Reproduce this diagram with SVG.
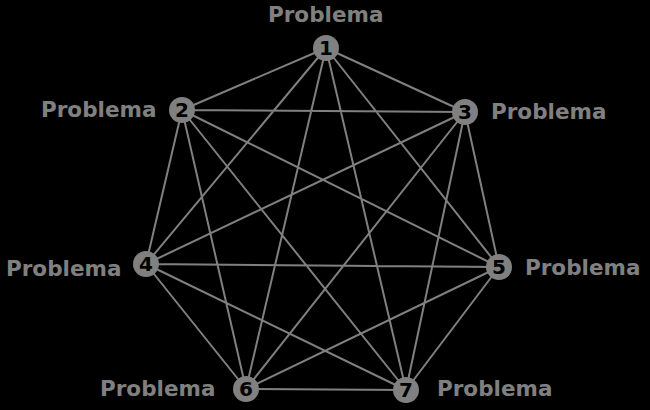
<svg xmlns="http://www.w3.org/2000/svg" width="650" height="410" viewBox="0 0 650 410">
<style>
.e{stroke:#808080;stroke-width:2;fill:none}
.n{fill:#808080}
.d{font-family:"DejaVu Sans",sans-serif;font-weight:bold;font-size:20px;fill:#000;text-anchor:middle}
.l{font-family:"DejaVu Sans",sans-serif;font-weight:bold;font-size:21.5px;fill:#808080}
</style>
<rect width="650" height="410" fill="#000"/>
<g id="edges">
<path class="e" d="M326,48L182,110M326,48L465,112M326,48L146,264M326,48L499,267M326,48L246,389M326,48L406,390
M182,110L465,112M182,110L146,264M182,110L499,267M182,110L246,389M182,110L406,390
M465,112L146,264M465,112L499,267M465,112L246,389M465,112L406,390
M146,264L499,267M146,264L246,389M146,264L406,390
M499,267L246,389M499,267L406,390M246,389L406,390"/>
</g>
<g id="n1"><circle class="n" cx="326" cy="48" r="13"/><text class="d" x="326" y="55">1</text><text class="l" x="268" y="22">Problema</text></g>
<g id="n2"><circle class="n" cx="182" cy="110" r="13"/><text class="d" x="182" y="117">2</text><text class="l" x="41" y="117">Problema</text></g>
<g id="n3"><circle class="n" cx="465" cy="112" r="13"/><text class="d" x="465" y="119">3</text><text class="l" x="491" y="119">Problema</text></g>
<g id="n4"><circle class="n" cx="146" cy="264" r="13"/><text class="d" x="146" y="271">4</text><text class="l" x="6" y="276">Problema</text></g>
<g id="n5"><circle class="n" cx="499" cy="267" r="13"/><text class="d" x="499" y="274">5</text><text class="l" x="525" y="275">Problema</text></g>
<g id="n6"><circle class="n" cx="246" cy="389" r="13"/><text class="d" x="246" y="396">6</text><text class="l" x="100" y="396">Problema</text></g>
<g id="n7"><circle class="n" cx="406" cy="390" r="13"/><text class="d" x="406" y="397">7</text><text class="l" x="437" y="396">Problema</text></g>
</svg>
